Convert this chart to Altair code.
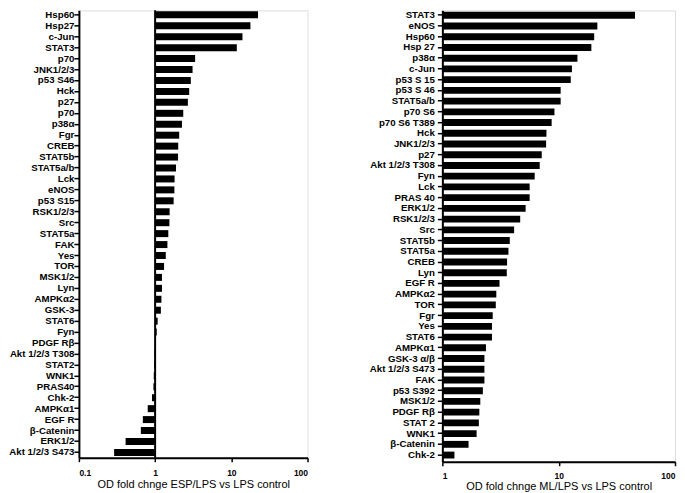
import json
import altair as alt
import pandas as pd

left_labels = ["Hsp60", "Hsp27", "c-Jun", "STAT3", "p70", "JNK1/2/3", "p53 S46", "Hck", "p27", "p70",
               "p38α", "Fgr", "CREB", "STAT5b", "STAT5a/b", "Lck", "eNOS", "p53 S15", "RSK1/2/3", "Src",
               "STAT5a", "FAK", "Yes", "TOR", "MSK1/2", "Lyn", "AMPKα2", "GSK-3", "STAT6", "Fyn",
               "PDGF Rβ", "Akt 1/2/3 T308", "STAT2", "WNK1", "PRAS40", "Chk-2", "AMPKα1", "EGF R",
               "β-Catenin", "ERK1/2", "Akt 1/2/3 S473"]
left_values = [22.4, 17.8, 14.0, 11.8, 3.35, 3.1, 2.94, 2.8, 2.69, 2.34,
               2.25, 2.07, 2.01, 2.0, 1.88, 1.8, 1.79, 1.75, 1.55, 1.54,
               1.49, 1.45, 1.38, 1.31, 1.23, 1.23, 1.21, 1.19, 1.08, 1.05,
               1.01, 0.98, 0.97, 0.96, 0.95, 0.91, 0.80, 0.69,
               0.65, 0.41, 0.29]

right_labels = ["STAT3", "eNOS", "Hsp60", "Hsp 27", "p38α", "c-Jun", "p53 S 15", "p53 S 46", "STAT5a/b",
                "p70 S6", "p70 S6  T389", "Hck", "JNK1/2/3", "p27", "Akt 1/2/3 T308", "Fyn", "Lck",
                "PRAS 40", "ERK1/2", "RSK1/2/3", "Src", "STAT5b", "STAT5a", "CREB", "Lyn", "EGF R",
                "AMPKα2", "TOR", "Fgr", "Yes", "STAT6", "AMPKα1", "GSK-3 α/β", "Akt 1/2/3 S473", "FAK",
                "p53 S392", "MSK1/2", "PDGF Rβ", "STAT 2", "WNK1", "β-Catenin", "Chk-2"]
right_values = [45.3, 21.5, 20.2, 19.1, 14.5, 13.0, 12.7, 10.4, 10.4,
                9.2, 8.7, 7.85, 7.8, 7.15, 6.87, 6.22, 5.63,
                5.63, 5.2, 4.67, 4.14, 3.8, 3.7, 3.6, 3.58, 3.1,
                2.91, 2.88, 2.71, 2.67, 2.67, 2.37, 2.3, 2.3, 2.3,
                2.23, 2.12, 2.08, 2.06, 1.97, 1.68, 1.27]

left_ticks = [0.1, 1, 10, 100]
right_ticks = [1, 10, 100]
left_title = "OD fold chnge ESP/LPS vs LPS control"
right_title = "OD fold chnge ML/LPS vs LPS control"

FONT = "Liberation Sans"


def panel(labels, values, ticks, title, width, height, pad_outer, align,
          label_pad, tick_label_pad, title_y, one_rule):
    df = pd.DataFrame({"idx": list(range(len(labels))), "value": values,
                       "base": [1.0] * len(labels)})
    label_expr = json.dumps(labels, ensure_ascii=False) + "[datum.value]"
    xscale = alt.Scale(type="log", domain=[ticks[0], ticks[-1]], nice=False)
    y = alt.Y("idx:O", title=None,
              scale=alt.Scale(paddingInner=0.36, paddingOuter=pad_outer, align=align),
              axis=alt.Axis(labelExpr=label_expr, labelFont=FONT, labelFontWeight="bold",
                            labelFontSize=9.7, labelColor="black", labelPadding=label_pad,
                            tickColor="black", tickSize=5, tickWidth=1.5,
                            domainColor="black", domainWidth=2, grid=False))
    x = alt.X("value:Q", scale=xscale, title=title,
              axis=alt.Axis(values=ticks, format="~g", labelFont=FONT, labelFontWeight="bold",
                            labelFontSize=8.5, labelColor="black", labelPadding=tick_label_pad,
                            labelBaseline="alphabetic",
                            tickColor="black", tickSize=4, tickWidth=1.5,
                            domainColor="black", domainWidth=2, grid=False,
                            titleFont=FONT, titleFontWeight="normal", titleFontSize=11,
                            titleColor="black", titleBaseline="alphabetic", titleY=title_y))
    bars = alt.Chart(df).mark_bar(color="black").encode(y=y, x=x, x2="base:Q")
    layers = [bars]
    if one_rule:
        rule = alt.Chart(pd.DataFrame({"base": [1.0]})).mark_rule(
            color="black", strokeWidth=2).encode(x=alt.X("base:Q", scale=xscale))
        layers.append(rule)
    return alt.layer(*layers).properties(width=width, height=height)


left = panel(left_labels, left_values, left_ticks, left_title, 229, 448, 0.128, 0.36,
             0, 14, 30.3, True)
right = panel(right_labels, right_values, right_ticks, right_title, 233, 452, 0.219, 0.32,
              3, 13, 27.7, False)

chart = alt.hconcat(left, right, spacing=59).properties(padding=0).configure_view(
    stroke=None).configure(background="white")

chart.save("out.html", embed_options={"renderer": "svg", "actions": False})
